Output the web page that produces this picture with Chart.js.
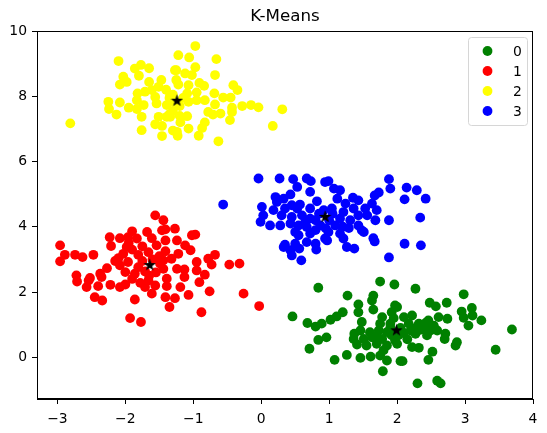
<!DOCTYPE html>
<html><head><meta charset="utf-8">
<script src="https://cdn.jsdelivr.net/npm/chart.js@4.4.0/dist/chart.umd.min.js"></script>
<style>html,body{margin:0;padding:0;background:#fff;}#wrap{width:547px;height:433px;}</style>
</head><body><div id="wrap"><canvas id="c" width="547" height="433"></canvas></div>
<script>
const clusterLabels = ['0', '1', '2', '3'];
const clusterColors = ['#008000', '#ff0000', '#ffff00', '#0000ff'];
const chartTitle = 'K-Means';

const cluster0 = [[0.84,2.13],[1.75,2.32],[1.96,2.23],[1.27,1.89],[1.65,1.89],[1.63,1.74],[1.43,1.62],[1.97,1.59],[1.43,1.38],[1.65,1.46],[1.92,1.38],[0.46,1.25],[1.20,1.38],[1.11,1.25],[1.02,1.15],[0.89,1.03],[0.68,1.05],[0.80,0.94],[1.48,1.08],[1.78,1.23],[1.75,1.03],[1.90,1.03],[1.37,0.72],[1.46,0.82],[1.60,0.77],[1.73,0.82],[1.85,0.77],[1.36,0.56],[1.51,0.56],[1.63,0.61],[1.78,0.56],[1.92,0.67],[1.41,0.39],[1.55,0.36],[1.70,0.41],[1.85,0.36],[1.97,0.51],[0.96,0.61],[0.84,0.53],[0.71,0.26],[1.26,0.07],[1.46,-0.02],[1.08,-0.08],[1.61,0.02],[1.75,0.05],[1.85,-0.10],[1.79,-0.43],[2.05,-0.12],[1.80,0.21],
[2.27,2.10],[2.98,1.93],[2.48,1.67],[2.57,1.56],[2.73,1.67],[3.10,1.51],[2.00,1.54],[2.95,1.40],[3.11,1.28],[2.98,1.21],[3.24,1.13],[2.10,1.23],[2.22,1.28],[2.46,1.13],[2.61,1.23],[2.74,1.18],[3.05,0.97],[3.69,0.85],[2.17,1.03],[2.32,1.03],[2.42,1.05],[2.54,0.97],[2.20,0.82],[2.34,0.84],[2.49,0.82],[2.59,0.82],[2.44,0.67],[2.27,0.72],[2.71,0.72],[2.70,0.56],[2.02,0.67],[2.88,0.46],[2.86,0.36],[2.22,0.31],[2.32,0.29],[2.00,0.41],[2.52,0.17],[3.45,0.23],[2.46,-0.08],[2.08,-0.12],[2.30,-0.80],[2.59,-0.72],[2.64,-0.80],
[2.05,0.90],[2.10,0.75],[1.90,0.90],[2.15,0.55],[1.95,1.20],[2.40,0.90],[2.30,0.95],[1.70,0.65]];

const cluster1 = [[-1.56,4.35],[-1.44,4.20],[-1.46,3.89],[-1.90,3.86],[-1.68,3.84],[-2.23,3.68],[-2.08,3.65],[-1.96,3.68],[-1.83,3.64],[-1.61,3.65],[-2.96,3.43],[-2.21,3.41],[-1.98,3.38],[-1.54,3.43],[-2.89,3.14],[-2.74,3.14],[-2.63,3.07],[-2.47,3.14],[-2.03,3.17],[-1.81,3.14],[-1.66,3.22],[-2.96,2.94],[-2.10,3.04],[-1.96,2.92],[-2.08,2.82],[-1.81,2.76],[-1.49,2.87],[-2.27,2.73],[-2.00,2.61],[-1.86,2.56],[-1.71,2.63],[-2.37,2.56],[-2.72,2.51],[-2.52,2.43],[-2.35,2.46],[-2.71,2.32],[-2.54,2.35],[-2.22,2.22],[-2.40,2.18],[-2.57,2.15],[-2.08,2.15],[-2.00,2.23],[-1.78,2.28],[-1.66,2.35],[-1.56,2.20],[-1.71,2.15],[-1.61,1.95],[-2.45,1.84],[-2.34,1.74],[-1.86,1.77],[-1.93,1.20],[-1.77,1.08],
[-1.41,3.92],[-1.27,3.94],[-1.02,3.74],[-0.97,3.76],[-1.41,3.58],[-1.24,3.58],[-1.12,3.43],[-1.04,3.28],[-1.41,3.25],[-1.22,3.17],[-1.32,3.02],[-0.68,3.14],[-0.78,3.02],[-0.95,2.92],[-1.44,2.97],[-0.73,2.84],[-0.47,2.84],[-0.32,2.87],[-1.44,2.71],[-1.24,2.71],[-1.13,2.69],[-0.95,2.66],[-0.83,2.53],[-1.39,2.41],[-1.13,2.46],[-0.91,2.30],[-1.39,2.18],[-1.19,2.15],[-0.76,2.02],[-1.07,1.91],[-0.26,1.95],[-1.41,1.84],[-1.27,1.81],[-1.35,1.54],[-0.88,1.38],[-0.03,1.57],
[-1.75,3.40],[-1.90,3.30],[-1.75,2.95],[-1.60,3.00],[-1.55,2.60],[-1.90,2.40],[-1.65,2.50],[-1.50,3.10],[-1.95,3.50],[-2.15,2.95]];

const cluster2 = [[-2.10,9.08],[-1.86,8.85],[-1.77,8.96],[-1.65,8.86],[-2.03,8.60],[-1.80,8.63],[-2.08,8.36],[-1.98,8.44],[-1.65,8.44],[-1.47,8.50],[-1.51,8.29],[-1.82,8.09],[-1.71,8.14],[-1.61,8.19],[-1.83,7.88],[-1.56,7.98],[-2.25,7.83],[-2.08,7.81],[-2.24,7.61],[-2.13,7.44],[-1.95,7.65],[-1.83,7.61],[-1.73,7.73],[-1.54,7.78],[-1.39,7.73],[-1.76,7.37],[-1.51,7.37],[-1.39,7.37],[-1.56,7.14],[-1.46,7.09],[-1.76,6.96],[-1.46,6.78],[-2.81,7.17],[-1.27,8.80],
[-0.97,9.54],[-1.22,9.26],[-1.06,9.19],[-0.66,9.14],[-1.25,8.80],[-1.12,8.70],[-0.97,8.89],[-1.02,8.65],[-0.68,8.65],[-1.22,8.36],[-1.07,8.34],[-0.91,8.41],[-0.84,8.32],[-0.41,8.34],[-0.35,8.19],[-1.09,8.09],[-0.95,8.12],[-0.69,8.09],[-0.56,7.96],[-0.45,7.96],[-1.07,7.83],[-0.95,7.88],[-0.83,7.88],[-0.68,7.75],[-0.28,7.70],[-0.15,7.73],[-0.04,7.66],[0.31,7.60],[-0.43,7.65],[-0.43,7.52],[-0.78,7.52],[-0.60,7.47],[-0.71,7.44],[-1.09,7.39],[-1.19,7.20],[-0.83,7.20],[-0.46,7.27],[-0.87,7.03],[-1.07,7.01],[-1.24,6.91],[-1.23,6.79],[-0.92,6.79],[-0.63,6.62],[0.17,7.09],
[-1.30,8.05],[-1.35,7.95],[-1.20,7.70],[-1.15,7.95],[-1.30,7.55],[-1.40,8.20],[-1.25,8.50],[-1.35,7.45],[-1.30,6.95],[-1.20,7.40],[-1.34,8.03],[-1.34,7.37],[-1.28,7.83]];

const cluster3 = [[-0.04,5.48],[0.27,5.48],[0.47,5.46],[0.67,5.48],[0.73,5.40],[0.94,5.37],[0.53,5.22],[0.72,5.07],[-0.56,4.68],[0.21,4.91],[0.43,4.99],[0.33,4.86],[0.23,4.76],[0.82,4.78],[0.57,4.68],[0.45,4.66],[0.01,4.61],[0.18,4.51],[0.35,4.56],[0.53,4.56],[0.72,4.56],[0.92,4.51],[0.03,4.35],[0.30,4.35],[0.45,4.30],[0.60,4.35],[0.72,4.25],[-0.01,4.15],[0.13,4.04],[0.28,4.04],[0.43,4.10],[0.55,4.04],[0.67,3.99],[0.87,4.04],[0.50,3.84],[0.72,3.79],[0.94,3.64],[0.55,3.74],[0.35,3.45],[0.50,3.48],[0.67,3.53],[0.80,3.48],[0.43,3.28],[0.56,3.33],[0.81,3.30],[0.45,3.12],[0.59,2.97],[0.33,3.38],
[0.99,5.40],[1.88,5.46],[1.90,5.17],[2.14,5.20],[2.29,5.12],[2.42,4.86],[2.11,4.84],[1.07,5.17],[1.16,5.12],[1.12,4.86],[1.35,4.89],[1.43,4.81],[1.67,4.96],[1.73,5.05],[1.63,4.71],[1.24,4.71],[1.04,4.56],[1.36,4.56],[1.53,4.56],[1.70,4.51],[1.21,4.45],[1.43,4.35],[1.56,4.35],[1.16,4.25],[1.31,4.20],[1.68,4.20],[1.88,4.20],[2.34,4.28],[1.09,4.04],[1.29,3.96],[1.43,4.04],[1.48,3.89],[1.51,3.84],[0.99,3.84],[1.16,3.79],[0.97,3.58],[1.21,3.64],[1.65,3.65],[1.67,3.55],[1.26,3.38],[1.37,3.33],[2.11,3.48],[2.35,3.43],[1.88,3.06],
[0.80,4.20],[0.85,4.40],[1.00,4.20],[1.05,4.40],[0.65,4.15],[0.95,3.95],[0.80,3.90],[1.20,4.00]];

const centroids = [[1.99,0.84],[-1.64,2.84],[-1.24,7.88],[0.94,4.32]];

const xRange = [-3.3, 4];
const yRange = [-1.28, 10];
const xStep = 1;
const yStep = 2;

const clusters = [cluster0, cluster1, cluster2, cluster3];
const toPts = arr => arr.map(p => ({x: p[0], y: p[1]}));

function makeStar(size) {
  const c = document.createElement('canvas');
  c.width = size; c.height = size;
  const g = c.getContext('2d');
  const cx = size / 2, cy = size / 2 + 0.6, R = size / 2, r = R * 0.4;
  g.beginPath();
  for (let i = 0; i < 10; i++) {
    const rad = i % 2 === 0 ? R : r;
    const a = -Math.PI / 2 + i * Math.PI / 5;
    const px = cx + rad * Math.cos(a), py = cy + rad * Math.sin(a);
    if (i === 0) g.moveTo(px, py); else g.lineTo(px, py);
  }
  g.closePath();
  g.fillStyle = '#000';
  g.fill();
  return c;
}
const starImg = makeStar(13);

const datasets = [{
  label: 'centroids',
  data: toPts(centroids),
  pointStyle: starImg,
  pointRadius: 6,
  order: 0
}];
clusters.forEach((cl, i) => {
  datasets.push({
    label: clusterLabels[i],
    data: toPts(cl),
    backgroundColor: clusterColors[i],
    borderColor: clusterColors[i],
    borderWidth: 0,
    pointRadius: 4.9,
    order: 10 - i
  });
});

const fmt = v => String(v).replace('-', '\u2212');

const framePlugin = {
  id: 'frameLegend',
  afterDraw(chart) {
    const ctx = chart.ctx;
    const a = chart.chartArea;
    ctx.save();
    ctx.strokeStyle = '#000';
    ctx.lineWidth = 1;
    ctx.strokeRect(Math.round(a.left) + 0.5, Math.round(a.top) + 0.5, Math.round(a.right - a.left) - 1, Math.round(a.bottom - a.top) - 1);
    const bx = 468.5, by = 37.5, bw = 59, bh = 88, rr = 3;
    ctx.beginPath();
    ctx.moveTo(bx + rr, by);
    ctx.lineTo(bx + bw - rr, by);
    ctx.arcTo(bx + bw, by, bx + bw, by + rr, rr);
    ctx.lineTo(bx + bw, by + bh - rr);
    ctx.arcTo(bx + bw, by + bh, bx + bw - rr, by + bh, rr);
    ctx.lineTo(bx + rr, by + bh);
    ctx.arcTo(bx, by + bh, bx, by + bh - rr, rr);
    ctx.lineTo(bx, by + rr);
    ctx.arcTo(bx, by, bx + rr, by, rr);
    ctx.closePath();
    ctx.fillStyle = 'rgba(255,255,255,0.8)';
    ctx.fill();
    ctx.strokeStyle = '#d6d6d6';
    ctx.stroke();
    ctx.font = '13.9px "DejaVu Sans"';
    ctx.textBaseline = 'middle';
    ctx.textAlign = 'left';
    clusterLabels.forEach((lab, i) => {
      const y = 51 + i * 20;
      ctx.beginPath();
      ctx.arc(487.5, y, 4.9, 0, Math.PI * 2);
      ctx.fillStyle = clusterColors[i];
      ctx.fill();
      ctx.fillStyle = '#000';
      ctx.fillText(lab, 513, y + 1);
    });
    ctx.restore();
  }
};

new Chart(document.getElementById('c'), {
  type: 'scatter',
  data: { datasets },
  options: {
    responsive: false,
    animation: false,
    devicePixelRatio: 1,
    layout: { padding: { left: 0, right: 14, top: 0, bottom: 0 } },
    plugins: {
      legend: { display: false },
      tooltip: { enabled: false },
      title: {
        display: true,
        text: chartTitle,
        fullSize: false,
        color: '#000',
        font: { family: 'DejaVu Sans', size: 16.7, weight: 'normal', lineHeight: 1.2 },
        padding: { top: 6.8, bottom: 4.2 }
      }
    },
    scales: {
      x: {
        type: 'linear',
        min: xRange[0], max: xRange[1],
        afterFit: s => { s.height = 34; },
        border: { display: true, color: '#000', width: 1 },
        grid: { display: true, drawOnChartArea: false, drawTicks: true, tickLength: 5, tickColor: '#000' },
        ticks: { stepSize: xStep, includeBounds: false, padding: 7, color: '#000', maxRotation: 0,
          font: { family: 'DejaVu Sans', size: 13.9 }, callback: v => fmt(v) }
      },
      y: {
        type: 'linear',
        min: yRange[0], max: yRange[1],
        afterFit: s => { s.width = 37; },
        border: { display: true, color: '#000', width: 1 },
        grid: { display: true, drawOnChartArea: false, drawTicks: true, tickLength: 5, tickColor: '#000' },
        ticks: { stepSize: yStep, includeBounds: false, padding: 5, color: '#000',
          font: { family: 'DejaVu Sans', size: 13.9 }, callback: v => fmt(v) }
      }
    }
  },
  plugins: [framePlugin]
});
</script></body></html>
